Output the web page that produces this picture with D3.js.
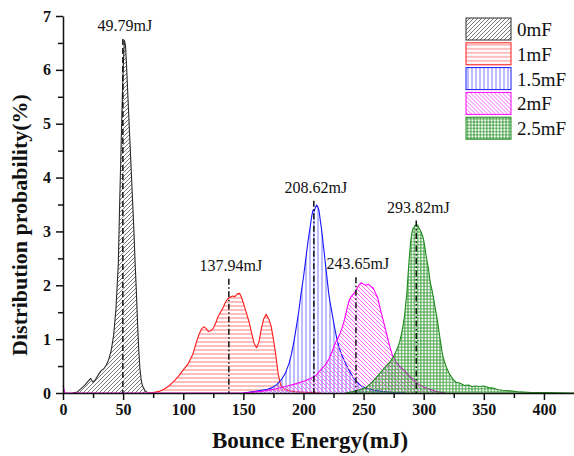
<!DOCTYPE html>
<html>
<head>
<meta charset="utf-8">
<script src="https://cdn.jsdelivr.net/npm/d3@7"></script>
<style>
  html, body { margin: 0; padding: 0; background: #fff; }
  svg { display: block; }
  text { font-family: "Liberation Serif", "Times New Roman", serif; }
</style>
</head>
<body>
<svg id="chart" width="574" height="456"></svg>
<script>
// Bounce-energy distributions, [energy (mJ), probability (%)]
const dist0mF = [[8,0],[12,0.02],[15,0.08],[18,0.14],[21,0.22],[23,0.27],[25,0.2],[27,0.25],[30,0.36],[32,0.42],[34,0.45],[36,0.52],[38,0.62],[40,0.78],[42,1.05],[44,1.55],[46,2.4],[47,3.4],[48,4.3],[49,5.2],[50,6.0],[51,6.55],[52,6.45],[53,6.0],[54,5.5],[55,5.0],[56,4.5],[57,4.0],[58,3.5],[59,3.0],[60,2.4],[61,1.9],[62,1.3],[63,0.8],[64,0.45],[65,0.25],[66,0.14],[68,0.05],[70,0.01]];
const dist1mF = [[70,0],[75,0.01],[80,0.03],[84,0.07],[88,0.13],[92,0.21],[96,0.31],[100,0.43],[104,0.54],[108,0.72],[111,0.95],[113,1.08],[115,1.18],[117,1.23],[119,1.2],[121,1.14],[123,1.16],[125,1.2],[127,1.3],[129,1.42],[131,1.5],[133,1.58],[135,1.68],[137,1.75],[139,1.78],[141,1.8],[143,1.79],[145,1.84],[147,1.85],[149,1.74],[151,1.6],[153,1.45],[155,1.3],[157,1.1],[159,0.92],[161,0.84],[163,0.95],[165,1.2],[167,1.38],[169,1.46],[171,1.38],[173,1.25],[175,1.0],[177,0.7],[179,0.35],[181,0.15],[184,0.08],[188,0.04],[195,0.02],[205,0.01],[215,0]];
const dist15mF = [[150,0],[160,0.03],[165,0.05],[170,0.07],[174,0.1],[178,0.16],[182,0.26],[185,0.37],[188,0.55],[190,0.72],[192,0.95],[194,1.22],[196,1.5],[198,1.85],[200,2.15],[202,2.5],[204,2.85],[206,3.15],[207,3.3],[208,3.4],[209,3.38],[210,3.45],[211,3.49],[212,3.45],[213,3.38],[214,3.2],[215,3.05],[216,2.85],[217,2.65],[218,2.45],[219,2.25],[220,2.05],[221,1.85],[222,1.7],[224,1.45],[226,1.2],[228,0.98],[230,0.82],[232,0.7],[235,0.55],[238,0.42],[241,0.3],[244,0.22],[247,0.15],[250,0.11],[254,0.08],[258,0.05],[265,0.03],[275,0.01],[285,0]];
const dist2mF = [[0,0.15],[1.5,0],[150,0],[165,0.03],[175,0.07],[185,0.12],[192,0.16],[200,0.22],[206,0.27],[210,0.32],[214,0.42],[218,0.52],[221,0.62],[224,0.78],[226,0.9],[228,1.0],[230,1.08],[232,1.2],[234,1.35],[236,1.55],[238,1.72],[240,1.8],[242,1.85],[244,1.92],[246,2.0],[248,2.05],[250,2.02],[252,2.0],[254,2.02],[256,1.98],[258,1.95],[260,1.85],[262,1.75],[264,1.55],[266,1.38],[268,1.2],[270,1.02],[272,0.85],[274,0.7],[277,0.58],[280,0.5],[284,0.42],[288,0.32],[292,0.24],[296,0.16],[300,0.11],[305,0.07],[310,0.03],[318,0]];
const dist25mF = [[235,0],[242,0.03],[248,0.07],[252,0.1],[256,0.18],[260,0.27],[264,0.38],[268,0.48],[272,0.58],[275,0.68],[278,0.82],[280,0.95],[282,1.15],[284,1.42],[285,1.65],[286,1.85],[287,2.2],[288,2.5],[289,2.78],[290,2.95],[291,3.05],[292,3.08],[293,3.12],[294,3.1],[295,3.12],[296,3.06],[297,3.03],[298,2.98],[299,2.92],[300,2.84],[301,2.7],[302,2.55],[303,2.42],[304,2.3],[305,2.12],[306,2.0],[307,1.9],[308,1.78],[309,1.65],[310,1.52],[311,1.4],[312,1.25],[313,1.1],[314,0.95],[315,0.8],[316,0.68],[317,0.6],[319,0.47],[321,0.37],[323,0.3],[325,0.24],[327,0.2],[329,0.19],[331,0.17],[334,0.14],[337,0.15],[340,0.12],[343,0.13],[346,0.12],[350,0.13],[354,0.1],[358,0.09],[362,0.06],[366,0.05],[372,0.04],[380,0.02],[390,0.01],[400,0.01],[425,0]];

const seriesNames = ["0mF", "1mF", "1.5mF", "2mF", "2.5mF"];
const seriesData = [dist0mF, dist1mF, dist15mF, dist2mF, dist25mF];

// Peak energies marked on the chart
const peakEnergies = [49.79, 137.94, 208.62, 243.65, 293.82];
const peakLabels = ["49.79mJ", "137.94mJ", "208.62mJ", "243.65mJ", "293.82mJ"];
const peakLabelLevels = [6.72, 2.27, 3.72, 2.3, 3.35];

const xTicks = [0, 50, 100, 150, 200, 250, 300, 350, 400];
const yTicks = [0, 1, 2, 3, 4, 5, 6, 7];

const svg = d3.select("#chart");
const x = d3.scaleLinear().domain([0, 425]).range([63, 574]);
const y = d3.scaleLinear().domain([0, 7]).range([393, 16]);

// Hatch patterns for each series
const styles = [
  { stroke: "#2b2b2b", hatch: "#555", kind: "fwd" },
  { stroke: "#ff1a1a", hatch: "#ff6a6a", kind: "horiz" },
  { stroke: "#1515ff", hatch: "#6a6aff", kind: "vert" },
  { stroke: "#ff00ff", hatch: "#ff55ff", kind: "back" },
  { stroke: "#1e8a1e", hatch: "#2e962e", kind: "grid" }
];
const defs = svg.append("defs");
styles.forEach((s, i) => {
  const size = s.kind === "grid" ? 3.2 : 4;
  const p = defs.append("pattern")
    .attr("id", "hatch" + i)
    .attr("patternUnits", "userSpaceOnUse")
    .attr("width", size).attr("height", size);
  let d;
  if (s.kind === "fwd") d = "M-1,1 l2,-2 M0,4 l4,-4 M3,5 l2,-2";
  else if (s.kind === "back") d = "M-1,3 l2,2 M0,0 l4,4 M3,-1 l2,2";
  else if (s.kind === "horiz") d = "M0,2 h4";
  else if (s.kind === "vert") d = "M2,0 v4";
  else d = "M0,1.6 h3.2 M1.6,0 v3.2";
  p.append("path").attr("d", d)
    .attr("stroke", s.hatch)
    .attr("stroke-width", s.kind === "fwd" ? 0.8 : 0.9)
    .attr("fill", "none");
});

// Distribution areas
const area = d3.area()
  .x(d => x(d[0]))
  .y0(y(0))
  .y1(d => y(d[1]));
const line = d3.line()
  .x(d => x(d[0]))
  .y(d => y(d[1]));

seriesData.forEach((data, i) => {
  svg.append("path").datum(data)
    .attr("d", area)
    .attr("fill", `url(#hatch${i})`);
  svg.append("path").datum(data)
    .attr("d", line)
    .attr("fill", "none")
    .attr("stroke", styles[i].stroke)
    .attr("stroke-width", 1.1)
    .attr("stroke-linejoin", "round");
});

// Peak markers
peakEnergies.forEach((e, i) => {
  svg.append("line")
    .attr("x1", x(e)).attr("x2", x(e))
    .attr("y1", y(peakLabelLevels[i]) + 8)
    .attr("y2", y(0))
    .attr("stroke", "#111")
    .attr("stroke-width", 1.5)
    .attr("stroke-dasharray", i === 0 ? "6,3" : "6,2.5,1.5,2.5");
  svg.append("text")
    .attr("x", x(e) + 2)
    .attr("y", y(peakLabelLevels[i]))
    .attr("text-anchor", "middle")
    .attr("font-size", 16)
    .attr("fill", "#111")
    .text(peakLabels[i]);
});

// Axes
svg.append("g").attr("transform", `translate(0,${y(0)})`)
  .call(d3.axisBottom(x).tickValues(xTicks).tickFormat(d3.format("d"))
    .tickSize(7).tickSizeOuter(0).tickPadding(4));
svg.append("g").attr("transform", `translate(0,${y(0)})`)
  .call(d3.axisBottom(x).tickValues(d3.range(25, 425, 50)).tickSize(5).tickFormat(""))
  .select(".domain").remove();
svg.append("g").attr("transform", `translate(${x(0)},0)`)
  .call(d3.axisLeft(y).tickValues(yTicks).tickFormat(d3.format("d"))
    .tickSize(7).tickSizeOuter(0).tickPadding(5));
svg.append("g").attr("transform", `translate(${x(0)},0)`)
  .call(d3.axisLeft(y).tickValues(d3.range(0.5, 7, 1)).tickSize(5).tickFormat(""))
  .select(".domain").remove();

svg.selectAll(".domain, .tick line").attr("stroke", "#111").attr("stroke-width", 1.5);
svg.selectAll(".tick text")
  .attr("font-family", "'Liberation Serif', serif")
  .attr("font-weight", "bold")
  .attr("font-size", 16)
  .attr("fill", "#111");

// Axis titles
svg.append("text")
  .attr("x", 310).attr("y", 448)
  .attr("text-anchor", "middle")
  .attr("font-size", 23).attr("font-weight", "bold")
  .attr("fill", "#111")
  .text("Bounce Energy(mJ)");
svg.append("text")
  .attr("transform", "translate(27,225) rotate(-90)")
  .attr("text-anchor", "middle")
  .attr("font-size", 22).attr("font-weight", "bold")
  .attr("fill", "#111")
  .text("Distribution probability(%)");

// Legend
const legend = svg.append("g").attr("transform", "translate(466,18)");
seriesNames.forEach((name, i) => {
  const g = legend.append("g").attr("transform", `translate(0,${i * 24.8})`);
  g.append("rect")
    .attr("width", 45).attr("height", 22)
    .attr("fill", `url(#hatch${i})`)
    .attr("stroke", styles[i].stroke)
    .attr("stroke-width", 1);
  g.append("text")
    .attr("x", 51).attr("y", 18)
    .attr("font-size", 19)
    .attr("fill", "#111")
    .text(name);
});
</script>
</body>
</html>
